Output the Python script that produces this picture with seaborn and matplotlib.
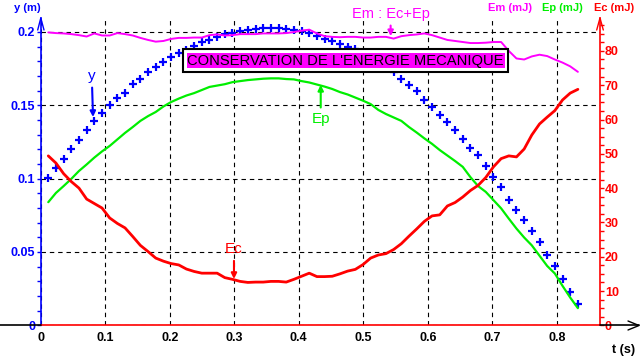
import numpy as np
import pandas as pd
import seaborn as sns
import matplotlib.pyplot as plt
from matplotlib.lines import Line2D
from matplotlib.patches import Rectangle
from matplotlib.ticker import MultipleLocator

# --- data ---
t = [0.0116, 0.0235, 0.0354, 0.0473, 0.0592, 0.0711, 0.0830, 0.0949, 0.1068, 0.1187,
     0.1306, 0.1425, 0.1544, 0.1663, 0.1782, 0.1901, 0.2020, 0.2139, 0.2258, 0.2377,
     0.2496, 0.2615, 0.2734, 0.2853, 0.2972, 0.3091, 0.3210, 0.3329, 0.3448, 0.3567,
     0.3686, 0.3805, 0.3924, 0.4043, 0.4162, 0.4281, 0.4400, 0.4519, 0.4638, 0.4757,
     0.4876, 0.4995, 0.5114, 0.5233, 0.5352, 0.5471, 0.5590, 0.5709, 0.5828, 0.5947,
     0.6066, 0.6185, 0.6304, 0.6423, 0.6542, 0.6661, 0.6780, 0.6899, 0.7018, 0.7137,
     0.7256, 0.7375, 0.7494, 0.7613, 0.7732, 0.7851, 0.7970, 0.8089, 0.8208, 0.8327]

# height of the ball (m)
y = [0.1006, 0.1070, 0.1137, 0.1205, 0.1263, 0.1332, 0.1393, 0.1447, 0.1499, 0.1550,
     0.1584, 0.1645, 0.1679, 0.1724, 0.1761, 0.1795, 0.1826, 0.1853, 0.1880, 0.1904,
     0.1928, 0.1945, 0.1966, 0.1983, 0.1995, 0.2004, 0.2010, 0.2019, 0.2024, 0.2025,
     0.2024, 0.2019, 0.2015, 0.2003, 0.1990, 0.1969, 0.1952, 0.1935, 0.1918, 0.1897,
     0.1884, 0.1860, 0.1833, 0.1802, 0.1765, 0.1724, 0.1676, 0.1638, 0.1594, 0.1536,
     0.1485, 0.1437, 0.1386, 0.1332, 0.1270, 0.1212, 0.1158, 0.1086, 0.1011, 0.0943,
     0.0854, 0.0786, 0.0718, 0.0643, 0.0565, 0.0479, 0.0401, 0.0319, 0.0224, 0.0142]

# potential energy (mJ)
Ep = [35.9, 38.6, 40.6, 42.7, 45.0, 46.9, 48.9, 50.7, 52.3, 54.2,
      56.1, 57.8, 59.6, 61.0, 62.2, 63.8, 65.1, 66.1, 67.0, 67.7,
      68.6, 69.5, 69.9, 70.3, 70.9, 71.2, 71.5, 71.7, 71.9, 72.0,
      72.0, 71.8, 71.7, 71.2, 70.8, 70.2, 69.6, 68.9, 68.0, 67.3,
      66.4, 65.5, 64.5, 62.8, 61.6, 60.6, 59.6, 57.8, 56.2, 54.5,
      52.9, 51.1, 49.5, 47.9, 46.2, 43.2, 40.6, 38.9, 36.5, 34.1,
      31.1, 28.2, 25.6, 23.3, 20.3, 17.3, 15.1, 11.5, 8.1, 5.0]

# kinetic energy (mJ)
Ec = [49.4, 47.3, 44.2, 41.9, 40.0, 36.8, 35.5, 34.2, 31.3, 29.7,
      28.4, 25.9, 23.3, 21.5, 19.6, 18.7, 18.0, 17.6, 16.4, 15.7,
      15.2, 15.2, 15.2, 13.9, 13.4, 12.8, 12.5, 12.6, 12.6, 12.8,
      12.8, 12.6, 13.4, 14.3, 15.2, 14.2, 14.2, 14.3, 15.0, 15.8,
      16.3, 17.7, 19.6, 20.5, 20.9, 22.1, 23.8, 26.0, 28.1, 30.3,
      31.9, 32.2, 34.8, 35.8, 37.4, 39.3, 40.8, 43.1, 46.2, 48.6,
      49.4, 49.1, 51.4, 55.5, 58.7, 60.7, 62.6, 65.7, 67.7, 68.8]

# mechanical energy (mJ)
Em = [85.4, 85.2, 85.1, 84.9, 84.6, 84.2, 85.1, 84.5, 84.5, 85.2,
      84.9, 84.5, 83.8, 83.2, 82.7, 82.9, 83.5, 83.8, 83.8, 83.9,
      83.9, 84.6, 84.8, 84.5, 84.6, 84.9, 84.9, 84.9, 85.1, 85.1,
      85.1, 85.2, 85.5, 85.9, 86.2, 85.1, 84.3, 84.1, 84.0, 84.1,
      84.1, 83.9, 83.9, 84.1, 84.1, 83.6, 84.3, 84.6, 84.8, 85.1,
      84.6, 83.9, 83.2, 82.9, 82.6, 82.3, 82.3, 82.4, 82.6, 82.6,
      80.0, 77.8, 77.5, 78.4, 78.9, 78.5, 77.5, 76.6, 75.5, 73.9]

x_ticks = [0, 0.1, 0.2, 0.3, 0.4, 0.5, 0.6, 0.7, 0.8]
x_labels = ['0', '0.1', '0.2', '0.3', '0.4', '0.5', '0.6', '0.7', '0.8']
y_ticks = [0, 0.05, 0.1, 0.15, 0.2]
y_labels = ['0', '0.05', '0.1', '0.15', '0.2']
e_ticks = [0, 10, 20, 30, 40, 50, 60, 70, 80]
e_labels = [str(v) for v in e_ticks]

df = pd.DataFrame({'t': t, 'y': y, 'Ep': Ep, 'Ec': Ec, 'Em': Em})

sns.set_style('white')
plt.rcParams['font.family'] = ['Liberation Sans', 'DejaVu Sans']

BLUE, RED, GREEN, MAG = '#0000ff', '#ff0000', '#00ee00', '#ff00ff'
W, H = 640, 360


def fx(px):
    return px / W


def fy(py):
    return 1 - py / H


fig = plt.figure(figsize=(6.4, 3.6), dpi=100)
fig.patch.set_facecolor('white')
ax = fig.add_axes([fx(40.8), fy(325.3), (600 - 40.8) / W, (325.3 - 18) / H])
ax2 = ax.twinx()

# energies on the right axis
sns.lineplot(data=df, x='t', y='Em', ax=ax2, color=MAG, lw=1.4, zorder=3)
sns.lineplot(data=df, x='t', y='Ep', ax=ax2, color=GREEN, lw=1.6, zorder=3)
sns.lineplot(data=df, x='t', y='Ec', ax=ax2, color=RED, lw=2.0, zorder=3)
# height as crosses on the left axis
sns.scatterplot(data=df, x='t', y='y', ax=ax, marker='+', s=30, linewidth=1.6,
                color=BLUE, zorder=3)

ax.set_xlim(0, 0.867)
ax.set_ylim(0, 0.2095)
ax2.set_ylim(0, 89.6)
for a in (ax, ax2):
    a.set_xlabel('')
    a.set_ylabel('')

# grid
ax.set_xticks(x_ticks)
ax.set_xticklabels(x_labels, fontweight='bold')
ax.set_yticks(y_ticks)
ax.set_yticklabels(y_labels, fontweight='bold')
ax.xaxis.set_minor_locator(MultipleLocator(0.02))
ax.yaxis.set_minor_locator(MultipleLocator(0.01))
ax.grid(True, which='major', color='black', ls=(0, (4, 3.5)), lw=0.8)
ax.set_axisbelow(True)

ax.tick_params(axis='x', which='both', direction='out', length=3, width=1,
               color=RED, pad=2, labelsize=9, labelcolor='black')
ax.tick_params(axis='y', which='both', direction='out', length=3, width=1,
               color=BLUE, pad=1, labelsize=9, labelcolor=BLUE)

ax2.set_yticks(e_ticks)
ax2.set_yticklabels(e_labels, fontweight='bold')
ax2.yaxis.set_minor_locator(MultipleLocator(2.5))
ax2.tick_params(axis='y', which='both', direction='out', length=3, width=1,
                color=RED, pad=0.5, labelsize=9, labelcolor=RED)

for s in ('top', 'right'):
    ax.spines[s].set_visible(False)
ax.spines['left'].set_color(BLUE)
ax.spines['left'].set_linewidth(1.2)
ax.spines['bottom'].set_color(RED)
ax.spines['bottom'].set_linewidth(1.2)
for s in ('top', 'left', 'bottom'):
    ax2.spines[s].set_visible(False)
ax2.spines['right'].set_color(RED)
ax2.spines['right'].set_linewidth(1.2)

# axis extensions and arrow heads
def fline(xs, ys, color, lw=1.2):
    fig.add_artist(Line2D([fx(v) for v in xs], [fy(v) for v in ys],
                          transform=fig.transFigure, color=color, lw=lw))

fline([0, 40.8], [325.3, 325.3], 'black')
fline([600, 639], [325.3, 325.3], 'black')
fline([628, 639, 628], [321, 325.5, 330], 'black', 1)
fline([37.7, 40.8, 44], [30, 18, 30], BLUE, 1)
fline([596.7, 600, 603.3], [30, 18, 30], RED, 1)

# axis titles
fig.text(fx(27), fy(8), 'y (m)', color=BLUE, fontsize=8, fontweight='bold',
         ha='center', va='center')
fig.text(fx(510), fy(8), 'Em (mJ)', color=MAG, fontsize=8, fontweight='bold',
         ha='center', va='center')
fig.text(fx(562.5), fy(8), 'Ep (mJ)', color=GREEN, fontsize=8, fontweight='bold',
         ha='center', va='center')
fig.text(fx(614), fy(8), 'Ec (mJ)', color=RED, fontsize=8, fontweight='bold',
         ha='center', va='center')
fig.text(fx(624), fy(350), 't (s)', color='black', fontsize=9, fontweight='bold',
         ha='center', va='center')

# title box
fig.add_artist(Rectangle((fx(183.3), fy(72.3)), fx(508) - fx(183.3), fy(49.3) - fy(72.3),
                         transform=fig.transFigure, facecolor='white',
                         edgecolor='black', lw=1.5, zorder=10))
fig.text(fx(345.7), fy(60.5), "CONSERVATION DE L'ENERGIE MECANIQUE", fontsize=10.6,
         color='black', ha='center', va='center', zorder=11,
         bbox=dict(boxstyle='square,pad=0.05', facecolor=MAG, edgecolor='none'))

# curve labels
arrow = dict(arrowstyle='-|>', lw=1.5, mutation_scale=8, shrinkA=1, shrinkB=0)
ax.annotate('y', xy=(0.081, 0.142), xytext=(0.079, 0.170), color=BLUE, fontsize=11,
            ha='center', va='center', arrowprops=dict(arrow, color=BLUE))
ax2.annotate('Ep', xy=(0.434, 70.1), xytext=(0.434, 60.1), color=GREEN, fontsize=11,
             ha='center', va='center', arrowprops=dict(arrow, color=GREEN))
ax2.annotate('Ec', xy=(0.2995, 13.5), xytext=(0.2995, 22.2), color=RED, fontsize=11,
             ha='center', va='center', arrowprops=dict(arrow, color=RED))
ax2.annotate('Em : Ec+Ep', xy=(0.5425, 84.3), xytext=(0.5422, 90.8), color=MAG,
             fontsize=10.5, ha='center', va='center', annotation_clip=False,
             arrowprops=dict(arrow, color=MAG))

fig.savefig('out.png', dpi=100)
